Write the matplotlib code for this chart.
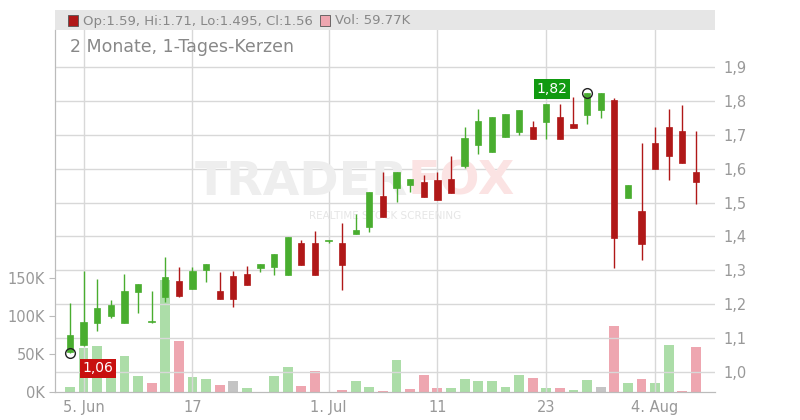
import matplotlib.pyplot as plt
import matplotlib.patches as mpatches
import numpy as np

dates = ['4 Jun', '5 Jun', '6 Jun', '7 Jun', '10 Jun', '11 Jun', '12 Jun', '13 Jun', '14 Jun', '17 Jun',
         '18 Jun', '19 Jun', '20 Jun', '21 Jun', '24 Jun', '25 Jun', '26 Jun', '27 Jun', '28 Jun', '1 Jul',
         '2 Jul', '3 Jul', '4 Jul', '5 Jul', '8 Jul', '9 Jul', '10 Jul', '11 Jul', '12 Jul', '15 Jul',
         '16 Jul', '17 Jul', '18 Jul', '19 Jul', '22 Jul', '23 Jul', '24 Jul', '25 Jul', '26 Jul', '29 Jul',
         '30 Jul', '31 Jul', '1 Aug', '4 Aug', '5 Aug', '6 Aug', '7 Aug']
opens = [1.060, 1.080, 1.146, 1.166, 1.146, 1.237, 1.147, 1.221, 1.268, 1.246,
         1.302, 1.239, 1.283, 1.289, 1.307, 1.310, 1.286, 1.381, 1.381, 1.386,
         1.381, 1.407, 1.429, 1.519, 1.544, 1.553, 1.560, 1.566, 1.569, 1.608,
         1.671, 1.650, 1.694, 1.709, 1.723, 1.738, 1.752, 1.732, 1.759, 1.774,
         1.802, 1.514, 1.475, 1.676, 1.723, 1.711, 1.590]
highs = [1.203, 1.299, 1.274, 1.212, 1.289, 1.260, 1.239, 1.338, 1.310, 1.309,
         1.319, 1.295, 1.299, 1.313, 1.319, 1.348, 1.398, 1.389, 1.416, 1.388,
         1.441, 1.466, 1.531, 1.590, 1.590, 1.569, 1.581, 1.590, 1.637, 1.723,
         1.776, 1.752, 1.761, 1.773, 1.740, 1.791, 1.791, 1.811, 1.823, 1.823,
         1.808, 1.552, 1.676, 1.723, 1.776, 1.788, 1.710]
lows = [1.056, 1.078, 1.122, 1.160, 1.146, 1.175, 1.146, 1.207, 1.221, 1.246,
        1.266, 1.216, 1.192, 1.257, 1.295, 1.286, 1.286, 1.316, 1.286, 1.381,
        1.242, 1.407, 1.414, 1.458, 1.502, 1.532, 1.517, 1.508, 1.529, 1.602,
        1.644, 1.650, 1.694, 1.700, 1.688, 1.688, 1.688, 1.721, 1.731, 1.750,
        1.308, 1.514, 1.331, 1.600, 1.567, 1.618, 1.495]
closes = [1.109, 1.147, 1.189, 1.197, 1.239, 1.260, 1.148, 1.280, 1.224, 1.298,
          1.319, 1.216, 1.216, 1.257, 1.319, 1.348, 1.398, 1.316, 1.286, 1.388,
          1.316, 1.419, 1.531, 1.458, 1.590, 1.569, 1.517, 1.508, 1.529, 1.690,
          1.740, 1.752, 1.761, 1.773, 1.688, 1.791, 1.688, 1.721, 1.823, 1.823,
          1.396, 1.552, 1.379, 1.600, 1.638, 1.618, 1.560]
volumes = [7, 58, 61, 33, 48, 21, 12, 148, 67, 20,
           17, 9, 15, 5, 0, 21, 33, 8, 28, 0,
           3, 15, 7, 1, 42, 4, 22, 5, 5, 17,
           15, 15, 7, 22, 18, 5, 5, 3, 16, 7,
           87, 12, 17, 12, 62, 1, 59.77]
vol_colors = ['g', 'g', 'g', 'g', 'g', 'g', 'r', 'g', 'r', 'g',
              'g', 'r', 'n', 'g', 'g', 'g', 'g', 'r', 'r', 'g',
              'r', 'g', 'g', 'r', 'g', 'r', 'r', 'r', 'g', 'g',
              'g', 'g', 'g', 'g', 'r', 'g', 'r', 'g', 'g', 'n',
              'r', 'g', 'r', 'g', 'g', 'r', 'r']
tick_labels = {'5 Jun': '5. Jun', '17 Jun': '17', '1 Jul': '1. Jul', '11 Jul': '11',
               '23 Jul': '23', '4 Aug': '4. Aug'}

GREEN = '#49ad2f'
RED = '#b01818'
VCOL = {'g': '#acdda8', 'r': '#eea6b0', 'n': '#c4c4c4'}
GRID = '#d8d8d8'
TXT = '#999999'

fig = plt.figure(figsize=(8, 4.2), dpi=100)
ax = fig.add_axes([55 / 800, 28 / 420, 660 / 800, 362 / 420])
vax = ax.twinx()
ax.set_zorder(2)
ax.patch.set_visible(False)

x = np.arange(len(dates))
ax.set_xlim(-1.1, 47.4)
ax.set_ylim(0.941, 2.009)
vax.set_ylim(0, 478)

# volume (left axis)
vax.bar(x, volumes, width=0.72, color=[VCOL[c] for c in vol_colors], zorder=1)

# watermark
ax.text(0.535, 0.58, 'TRADER', transform=ax.transAxes, ha='right', va='center',
        fontsize=34, fontweight='bold', color='#eeeeee', zorder=1)
ax.text(0.535, 0.58, 'FOX', transform=ax.transAxes, ha='left', va='center',
        fontsize=34, fontweight='bold', color='#fbe3e3', zorder=1)
ax.text(0.5, 0.485, 'REALTIME STOCK SCREENING', transform=ax.transAxes, ha='center', va='center',
        fontsize=7.5, color='#e6e6e6', zorder=1)

# candles
for i in x:
    o, h, l, c = opens[i], highs[i], lows[i], closes[i]
    col = GREEN if c >= o else RED
    ax.vlines(i, l, h, color=col, linewidth=1.0, zorder=3)
    body = max(abs(c - o), 0.002)
    ax.add_patch(mpatches.Rectangle((i - 0.23, min(o, c)), 0.46, body,
                                    facecolor=col, edgecolor=col, linewidth=0.5, zorder=4))

# grids
for p in np.arange(1.0, 1.95, 0.1):
    ax.axhline(p, color=GRID, linewidth=1, zorder=0)
tick_pos = [dates.index(d) + 0.0 for d in tick_labels]
for t in tick_pos:
    ax.axvline(t, color=GRID, linewidth=1, zorder=0)

# price axis on right
ax.yaxis.tick_right()
ax.set_yticks(np.arange(1.0, 1.95, 0.1))
ax.set_yticklabels([('%.1f' % v).replace('.', ',') for v in np.arange(1.0, 1.95, 0.1)],
                   color=TXT, fontsize=10.5)
ax.tick_params(axis='y', length=0, pad=6)
ax.set_xticks(tick_pos)
ax.set_xticklabels(list(tick_labels.values()), color=TXT, fontsize=10.5)
ax.tick_params(axis='x', length=0, pad=6)

vax.yaxis.tick_left()
vax.set_yticks([0, 50, 100, 150])
vax.set_yticklabels(['0K', '50K', '100K', '150K'], color=TXT, fontsize=10.5)
vax.tick_params(axis='y', length=4, color='#bbbbbb', pad=3)

for a in (ax, vax):
    for s in ('top', 'right'):
        a.spines[s].set_visible(False)
    a.spines['left'].set_color('#bbbbbb')
    a.spines['bottom'].set_color('#bbbbbb')

# header band
fig.patches.append(mpatches.Rectangle((55 / 800, 390 / 420), 660 / 800, 20 / 420,
                                      transform=fig.transFigure, facecolor='#e6e6e6', edgecolor='none'))
fig.patches.append(mpatches.Rectangle((68 / 800, 394 / 420), 10 / 800, 11 / 420,
                                      transform=fig.transFigure, facecolor=RED, edgecolor='#555555', lw=0.6))
fig.text(83 / 800, 399 / 420, 'Op:1.59, Hi:1.71, Lo:1.495, Cl:1.56', color='#888888', fontsize=9.5, va='center')
fig.patches.append(mpatches.Rectangle((320 / 800, 394 / 420), 10 / 800, 11 / 420,
                                      transform=fig.transFigure, facecolor='#eea6b0', edgecolor='#555555', lw=0.6))
fig.text(335 / 800, 399 / 420, 'Vol: 59.77K', color='#888888', fontsize=9.5, va='center')
fig.text(70 / 800, 373 / 420, '2 Monate, 1-Tages-Kerzen', color='#888888', fontsize=12.5, va='center')

# min / max markers
imax = int(np.argmax(highs))
imin = int(np.argmin(lows))
ax.plot(imax, highs[imax], 'o', mfc='none', mec='#222222', ms=7, zorder=6)
ax.plot(imin, lows[imin], 'o', mfc='none', mec='#222222', ms=7, zorder=6)
ax.annotate(('%.2f' % highs[imax]).replace('.', ','), (imax, highs[imax]), xytext=(-14, 3),
            textcoords='offset points', ha='right', va='center', color='white', fontsize=10,
            bbox=dict(boxstyle='square,pad=0.2', fc='#119a11', ec='none'), zorder=7)
ax.annotate(('%.2f' % lows[imin]).replace('.', ','), (imin, lows[imin]), xytext=(9, -11),
            textcoords='offset points', ha='left', va='center', color='white', fontsize=10,
            bbox=dict(boxstyle='square,pad=0.2', fc='#c8100f', ec='none'), zorder=7)

fig.savefig('out.png', dpi=100)
